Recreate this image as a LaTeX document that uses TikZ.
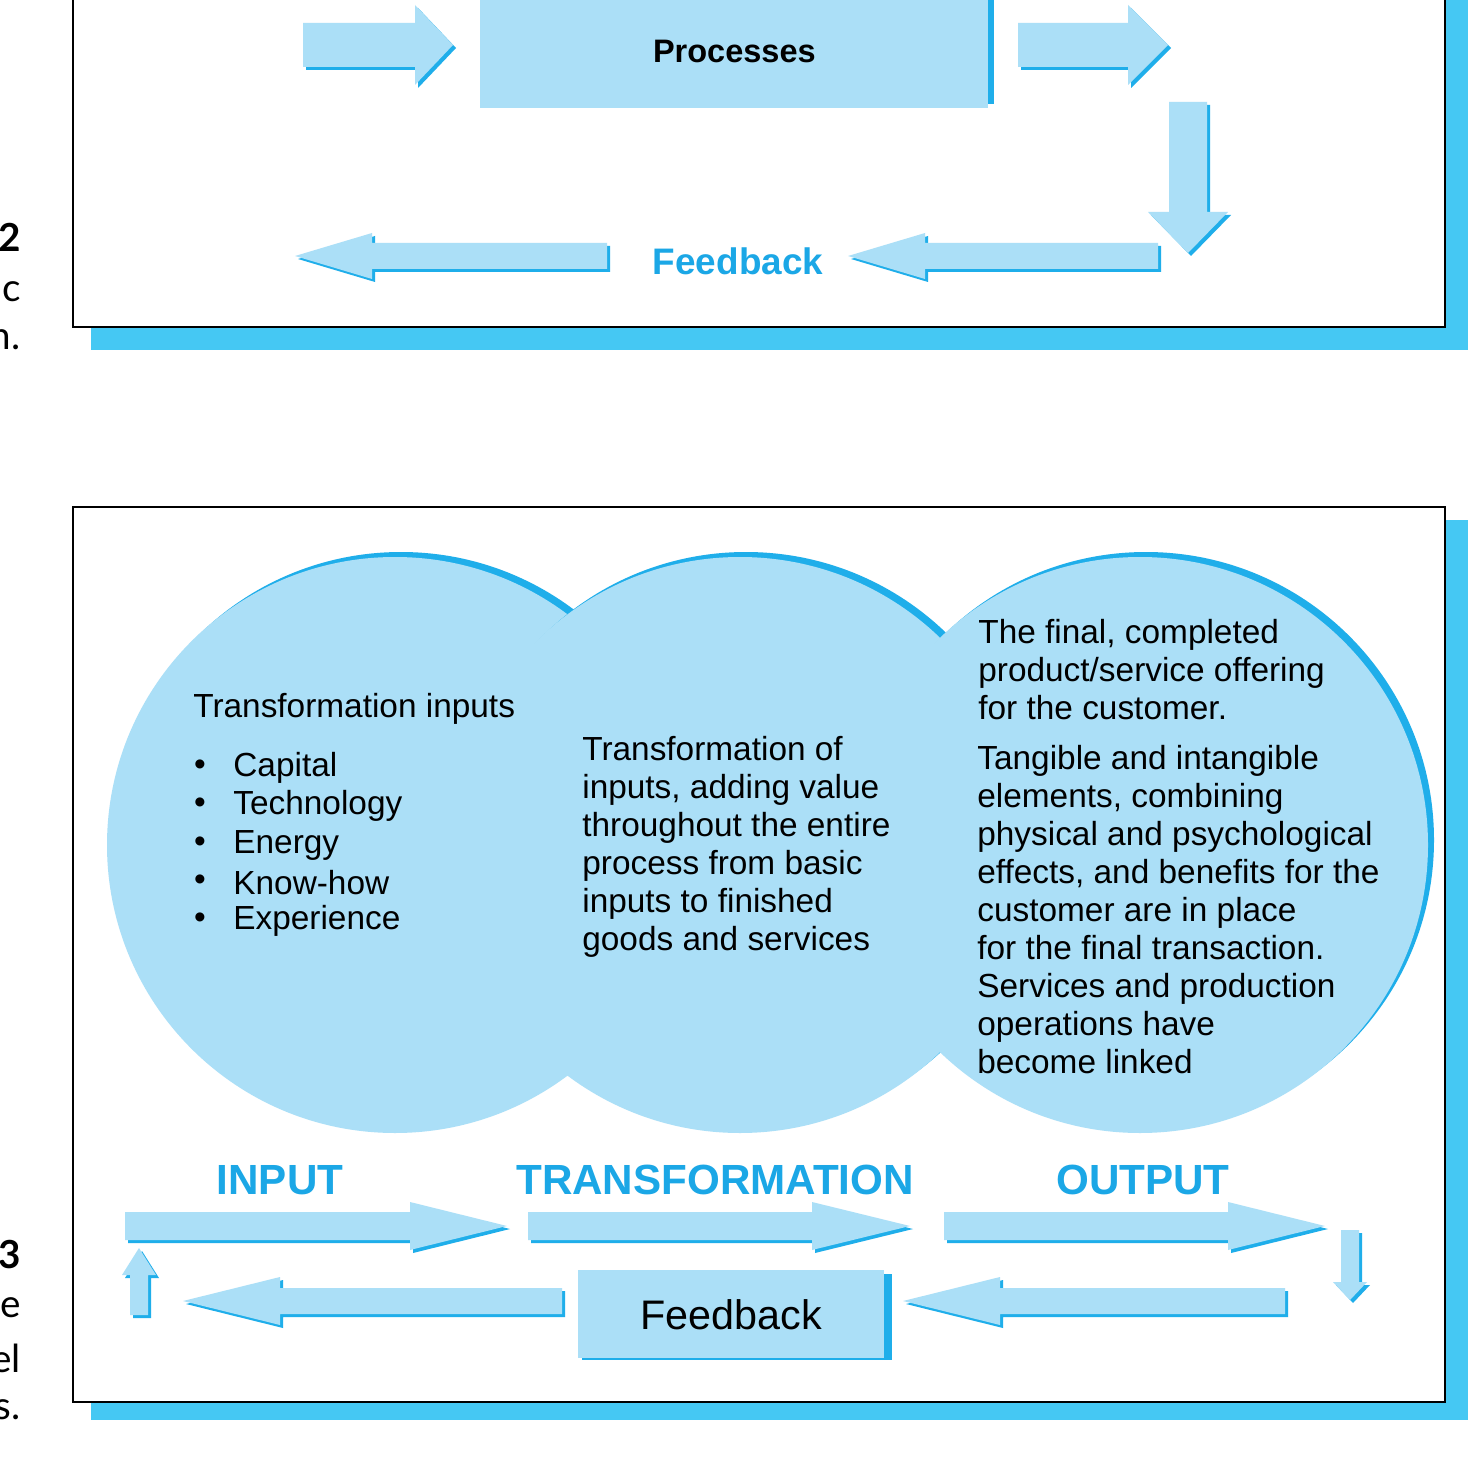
\documentclass[tikz,border=0pt]{standalone}
\usepackage{fontspec}
\setmainfont{Liberation Sans}
\newfontfamily\capfont{Lato}
\usetikzlibrary{positioning}
\definecolor{paleblue}{HTML}{ABDFF7}
\definecolor{rimblue}{HTML}{1FAEEA}
\definecolor{bandblue}{HTML}{45C8F3}
\definecolor{textblue}{HTML}{1BA7E6}
% horizontal block arrow: tail x, head base x, tip x, centre y, body half, head half
\newcommand{\harrow}[6]{%
  \fill[rimblue] ({#1+3},{#4-#5+3}) -- ({#2+3},{#4-#5+3}) -- ({#2+3},{#4-#6+3}) -- ({#3+3},{#4+3})
    -- ({#2+3},{#4+#6+3}) -- ({#2+3},{#4+#5+3}) -- ({#1+3},{#4+#5+3}) -- cycle;
  \fill[paleblue] (#1,{#4-#5}) -- (#2,{#4-#5}) -- (#2,{#4-#6}) -- (#3,#4)
    -- (#2,{#4+#6}) -- (#2,{#4+#5}) -- (#1,{#4+#5}) -- cycle;}
% vertical block arrow: tail y, head base y, tip y, centre x, body half, head half
\newcommand{\varrow}[6]{%
  \fill[rimblue] ({#4-#5+3},{#1+3}) -- ({#4-#5+3},{#2+3}) -- ({#4-#6+3},{#2+3}) -- ({#4+3},{#3+3})
    -- ({#4+#6+3},{#2+3}) -- ({#4+#5+3},{#2+3}) -- ({#4+#5+3},{#1+3}) -- cycle;
  \fill[paleblue] ({#4-#5},#1) -- ({#4-#5},#2) -- ({#4-#6},#2) -- (#4,#3)
    -- ({#4+#6},#2) -- ({#4+#5},#2) -- ({#4+#5},#1) -- cycle;}
\tikzset{
  frame/.style={draw=black,line width=0.6pt,fill=white},
  band/.style={fill=bandblue},
  body/.style={font=\fontsize{19}{21.6}\selectfont,align=left,anchor=north west,inner sep=0pt},
  heading/.style={font=\bfseries\fontsize{24}{26}\selectfont,text=textblue},
  caption/.style={font=\capfont\fontsize{22}{26}\selectfont,anchor=east,inner sep=0pt},
}
\begin{document}
\begin{tikzpicture}[x=0.2mm,y=-0.2mm]
  \useasboundingbox (0,0) rectangle (1468,1460);
  %% upper panel
  \fill[band] (91,0) rectangle (1468,350);
  \draw[frame] (73,-5) rectangle (1445,327);
  \node[caption,font=\capfont\bfseries\fontsize{22}{26}\selectfont] (upnum) at (21,237) {2};
  \node[caption] (upa) at (21,288) {ic};
  \node[caption] (upb) at (21,340) {n.};
  \fill[rimblue] (484,-5) rectangle (994,104);
  \node[fill=paleblue,minimum width=508*0.2mm,minimum height=113*0.2mm,anchor=south west,
    font=\bfseries\fontsize{18.5}{22}\selectfont] (proc) at (480,108) {Processes};
  \harrow{303}{415}{453}{45}{22}{40}
  \harrow{1018}{1128}{1168}{45}{22}{40}
  \varrow{102}{212}{253}{1188}{19}{40}
  \harrow{607}{372}{295}{256}{13}{23}
  \harrow{1158}{925}{848}{256}{13}{23}
  \node[heading,font=\bfseries\fontsize{21}{24}\selectfont] (fbtop) at (738,261) {Feedback};
  %% lower panel
  \fill[band] (91,520) rectangle (1468,1420);
  \draw[frame] (73,507) rectangle (1445,1402);
  \node[caption,font=\capfont\bfseries\fontsize{22}{26}\selectfont] (lonum) at (21,1255) {3};
  \node[caption] (loa) at (21,1308) {e};
  \node[caption] (lob) at (21,1358) {el};
  \node[caption] (loc) at (21,1410) {s.};
  % circles
  \foreach \cx in {395,740,1140}{
    \fill[rimblue] (\cx+6,845-5) circle (288);
    \fill[paleblue] (\cx,845) circle (288);
  }
  \node[body] (intxt) at (193,693) {Transformation inputs};
  \foreach \y/\item in {768/Capital,806/Technology,845/Energy,883/Know-how,921/Experience}{
    \node[font=\fontsize{19}{21.6}\selectfont,inner sep=0pt] at (200,\y) {\textbullet};
    \node[body,anchor=west] at (233,\y) {\item};
  }
  \node[body] (midtxt) at (582,736) {Transformation of\\inputs, adding value\\throughout the entire\\process from basic\\inputs to finished\\goods and services};
  \node[body] (outa) at (978,619) {The final, completed\\product/service offering\\for the customer.};
  \node[body] (outb) at (977,745) {Tangible and intangible\\elements, combining\\physical and psychological\\effects, and benefits for the\\customer are in place\\for the final transaction.\\Services and production\\operations have\\become linked};
  % labels and arrows
  \node[heading] (input) at (280,1180) {INPUT};
  \node[heading] (trans) at (715,1180) {TRANSFORMATION};
  \node[heading] (output) at (1143,1180) {OUTPUT};
  \harrow{125}{410}{507}{1226}{14}{24}
  \harrow{528}{812}{910}{1226}{14}{24}
  \harrow{944}{1228}{1325}{1226}{14}{24}
  \varrow{1315}{1275}{1248}{139}{9}{17}
  \varrow{1230}{1282}{1300}{1350}{9}{17}
  \harrow{562}{280}{183}{1301}{13}{24}
  \harrow{1285}{1000}{903}{1301}{13}{24}
  \fill[rimblue] (582,1274) rectangle (892,1360);
  \node[fill=paleblue,minimum width=306*0.2mm,minimum height=88*0.2mm,anchor=north west,
    font=\fontsize{23.5}{26}\selectfont,inner sep=0pt] (fbbot) at (578,1270) {Feedback};
\end{tikzpicture}
\end{document}
